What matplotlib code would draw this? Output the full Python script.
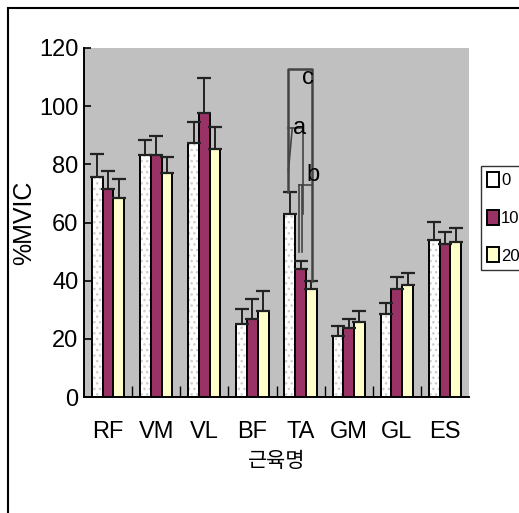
import matplotlib
matplotlib.use("Agg")
import matplotlib.pyplot as plt
import numpy as np
from matplotlib.patches import Rectangle

# data
muscles = ["RF", "VM", "VL", "BF", "TA", "GM", "GL", "ES"]
groups = ["0", "10", "20"]
mean_0 = [75.6, 83.2, 87.5, 25.2, 63.0, 21.0, 28.7, 53.9]
mean_10 = [71.4, 83.2, 97.8, 26.8, 44.1, 23.8, 37.1, 52.6]
mean_20 = [68.5, 77.0, 85.4, 29.4, 37.1, 25.9, 38.4, 53.2]
err_0 = [7.8, 5.0, 7.0, 5.0, 7.6, 3.5, 3.5, 6.3]
err_10 = [6.3, 6.5, 12.0, 6.9, 2.8, 2.9, 4.2, 4.1]
err_20 = [6.3, 5.5, 7.6, 7.2, 2.9, 3.5, 4.4, 5.0]
y_ticks = [0, 20, 40, 60, 80, 100, 120]
sig_letters = ["a", "b", "c"]
sig_heights = [92.4, 72.8, 112.8]

FONT = ["Liberation Sans", "DejaVu Sans"]
KFONT = ["Noto Sans CJK KR", "DejaVu Sans"]
COLORS = ["white", "#993366", "#FFFFCC"]
W = 0.223

fig = plt.figure(figsize=(5.19, 5.13), dpi=100)
ax = fig.add_axes([84 / 519, 1 - 397 / 513, 385 / 519, 349 / 513])
ax.set_facecolor("#C0C0C0")

x = np.arange(len(muscles))
means = [mean_0, mean_10, mean_20]
errs = [err_0, err_10, err_20]
for k in range(3):
    xs = x + (k - 1) * W
    if k == 0:
        # dotted fill for the white bars
        ax.bar(xs, means[k], W, color="white", edgecolor="#CCCCCC",
               hatch="...", linewidth=0, zorder=2)
        ax.bar(xs, means[k], W, fill=False, edgecolor="black",
               linewidth=1.4, zorder=3, label=groups[k])
    else:
        ax.bar(xs, means[k], W, color=COLORS[k], edgecolor="black",
               linewidth=1.4, zorder=3, label=groups[k])
    ax.errorbar(xs, means[k], yerr=[np.zeros(len(x)), errs[k]], fmt="none",
                ecolor="#222222", elinewidth=1.4, capsize=5, capthick=1.6, zorder=4)

# significance brackets on TA
ta = muscles.index("TA")
c0, c1, c2 = ta - W, ta, ta + W
lc = "#444444"
ha, hb, hc = sig_heights
# c
ax.plot([c0 - 0.03, c0 - 0.03, c2 + 0.02, c2 + 0.02],
        [mean_0[ta] + err_0[ta], hc, hc, mean_20[ta] + err_20[ta]],
        color=lc, lw=1.8, zorder=5)
ax.text(c2 - 0.07, hc - 3, sig_letters[2], fontsize=17, family=FONT,
        ha="center", va="center", zorder=6)
# a
ax.plot([c0 - 0.03, c1 + 0.06, c1 + 0.06], [ha, ha, 62.8], color=lc, lw=1.2, zorder=5)
ax.plot([c0 + 0.05, c0 - 0.03], [ha, 77.7], color=lc, lw=1.2, zorder=5)
ax.text(c1 - 0.03, ha, sig_letters[0], fontsize=17, family=FONT,
        ha="center", va="center", zorder=6)
# b
ax.plot([c1 - 0.03, c2 + 0.02], [hb, hb], color=lc, lw=1.2, zorder=5)
ax.plot([c1 - 0.03, c1 - 0.03], [hb, 49.7], color=lc, lw=1.2, zorder=5)
ax.plot([c1 + 0.03, c1 + 0.03], [hb, 49.7], color=lc, lw=1.2, zorder=5)
ax.text(c2 + 0.03, hb + 3.4, sig_letters[1], fontsize=17, family=FONT,
        ha="center", va="center", zorder=6)

ax.set_xlim(-0.5, len(muscles) - 0.5)
ax.set_ylim(0, 120)
ax.set_yticks(y_ticks)
ax.set_yticklabels([str(v) for v in y_ticks], fontsize=17, family=FONT)
ax.set_xticks(x)
ax.set_xticklabels(muscles, fontsize=17, family=FONT)
ax.tick_params(axis="x", length=0, pad=17)
ax.tick_params(axis="y", direction="in", length=5, width=1.2, pad=4)
ax.set_xticks(np.arange(0.5, len(muscles) - 0.5), minor=True)
ax.tick_params(axis="x", which="minor", direction="in", length=8, width=1)
for s in ["top", "right"]:
    ax.spines[s].set_visible(False)
for s in ["left", "bottom"]:
    ax.spines[s].set_linewidth(1.4)

ax.set_ylabel("%MVIC", fontsize=18, family=FONT, labelpad=2)
ax.yaxis.set_label_coords(-0.125, 0.5)
ax.set_xlabel("근육명", fontsize=15, family=KFONT, labelpad=5)

leg = ax.legend(loc="upper left", bbox_to_anchor=(481 / 519, 1 - 166 / 513),
                bbox_transform=fig.transFigure, prop={"family": FONT, "size": 12},
                frameon=True, fancybox=False, edgecolor="black", handlelength=0.7,
                handleheight=1.0, handletextpad=0.15, labelspacing=1.3,
                borderpad=0.35, borderaxespad=0)
leg.get_frame().set_linewidth(1.0)

# figure border
fig.patches.append(Rectangle((8 / 519, -0.1), 1.2, 1 - 8 / 513 + 0.1,
                             transform=fig.transFigure, fill=False,
                             edgecolor="black", linewidth=1.5))

fig.savefig("out.png", dpi=100)
